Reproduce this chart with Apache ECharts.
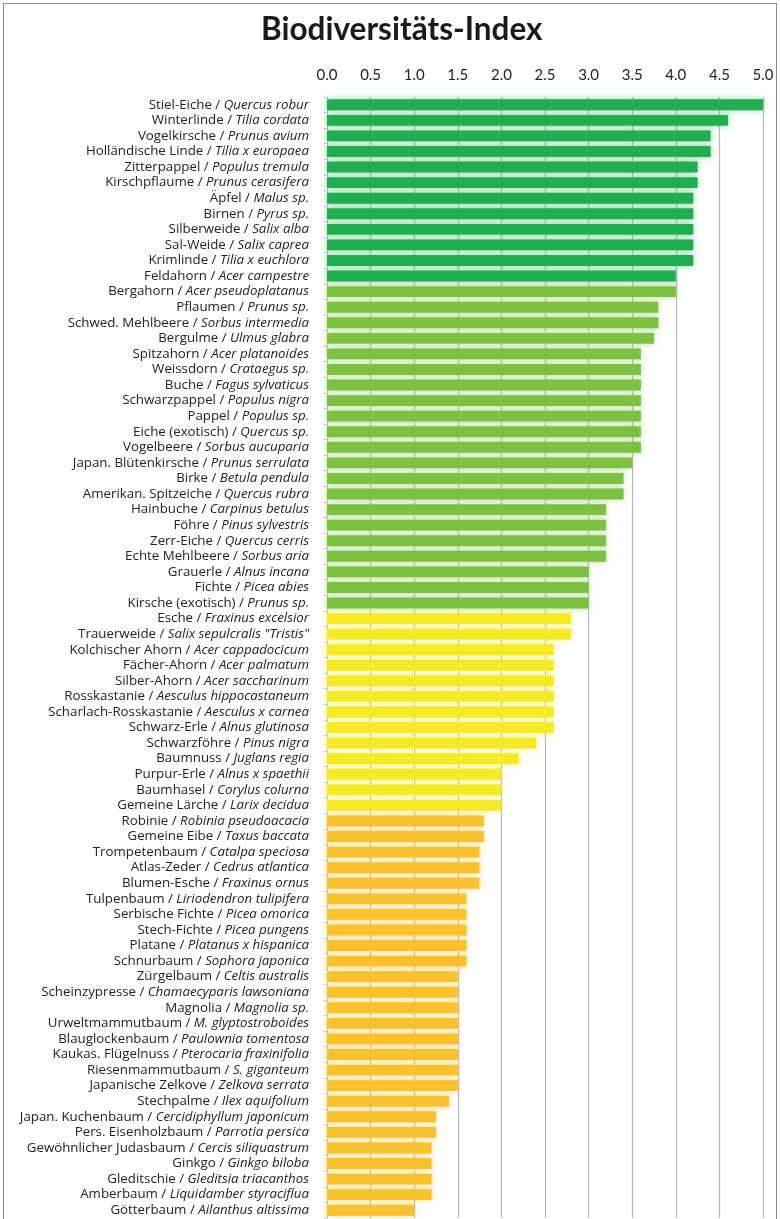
<!DOCTYPE html>
<html>
<head>
<meta charset="utf-8">
<script src="https://cdn.jsdelivr.net/npm/echarts@6/dist/echarts.min.js"></script>
<style>
  html, body { margin: 0; padding: 0; background: #fff; }
  #frame { position: absolute; left: 3px; top: 3px; width: 774px; height: 1230px; border: 1px solid #8a8a8a; box-sizing: border-box; }
  #chart { position: absolute; left: 0; top: 0; width: 780px; height: 1219px; }
</style>
</head>
<body>
<div id="frame"></div>
<div id="chart"></div>
<script>
// Common (German) tree names
const germanNames = [
  'Stiel-Eiche', 'Winterlinde', 'Vogelkirsche', 'Holländische Linde', 'Zitterpappel',
  'Kirschpflaume', 'Äpfel', 'Birnen', 'Silberweide', 'Sal-Weide',
  'Krimlinde', 'Feldahorn', 'Bergahorn', 'Pflaumen', 'Schwed. Mehlbeere',
  'Bergulme', 'Spitzahorn', 'Weissdorn', 'Buche', 'Schwarzpappel',
  'Pappel', 'Eiche (exotisch)', 'Vogelbeere', 'Japan. Blütenkirsche', 'Birke',
  'Amerikan. Spitzeiche', 'Hainbuche', 'Föhre', 'Zerr-Eiche', 'Echte Mehlbeere',
  'Grauerle', 'Fichte', 'Kirsche (exotisch)', 'Esche', 'Trauerweide',
  'Kolchischer Ahorn', 'Fächer-Ahorn', 'Silber-Ahorn', 'Rosskastanie', 'Scharlach-Rosskastanie',
  'Schwarz-Erle', 'Schwarzföhre', 'Baumnuss', 'Purpur-Erle', 'Baumhasel',
  'Gemeine Lärche', 'Robinie', 'Gemeine Eibe', 'Trompetenbaum', 'Atlas-Zeder',
  'Blumen-Esche', 'Tulpenbaum', 'Serbische Fichte', 'Stech-Fichte', 'Platane',
  'Schnurbaum', 'Zürgelbaum', 'Scheinzypresse', 'Magnolia', 'Urweltmammutbaum',
  'Blauglockenbaum', 'Kaukas. Flügelnuss', 'Riesenmammutbaum', 'Japanische Zelkove', 'Stechpalme',
  'Japan. Kuchenbaum', 'Pers. Eisenholzbaum', 'Gewöhnlicher Judasbaum', 'Ginkgo', 'Gleditschie',
  'Amberbaum', 'Götterbaum'
];

// Botanical names
const latinNames = [
  'Quercus robur', 'Tilia cordata', 'Prunus avium', 'Tilia x europaea', 'Populus tremula',
  'Prunus cerasifera', 'Malus sp.', 'Pyrus sp.', 'Salix alba', 'Salix caprea',
  'Tilia x euchlora', 'Acer campestre', 'Acer pseudoplatanus', 'Prunus sp.', 'Sorbus intermedia',
  'Ulmus glabra', 'Acer platanoides', 'Crataegus sp.', 'Fagus sylvaticus', 'Populus nigra',
  'Populus sp.', 'Quercus sp.', 'Sorbus aucuparia', 'Prunus serrulata', 'Betula pendula',
  'Quercus rubra', 'Carpinus betulus', 'Pinus sylvestris', 'Quercus cerris', 'Sorbus aria',
  'Alnus incana', 'Picea abies', 'Prunus sp.', 'Fraxinus excelsior', 'Salix sepulcralis "Tristis"',
  'Acer cappadocicum', 'Acer palmatum', 'Acer saccharinum', 'Aesculus hippocastaneum', 'Aesculus x carnea',
  'Alnus glutinosa', 'Pinus nigra', 'Juglans regia', 'Alnus x spaethii', 'Corylus colurna',
  'Larix decidua', 'Robinia pseudoacacia', 'Taxus baccata', 'Catalpa speciosa', 'Cedrus atlantica',
  'Fraxinus ornus', 'Liriodendron tulipifera', 'Picea omorica', 'Picea pungens', 'Platanus x hispanica',
  'Sophora japonica', 'Celtis australis', 'Chamaecyparis lawsoniana', 'Magnolia sp.', 'M. glyptostroboides',
  'Paulownia tomentosa', 'Pterocaria fraxinifolia', 'S. giganteum', 'Zelkova serrata', 'Ilex aquifolium',
  'Cercidiphyllum japonicum', 'Parrotia persica', 'Cercis siliquastrum', 'Ginkgo biloba', 'Gleditsia triacanthos',
  'Liquidamber styraciflua', 'Ailanthus altissima'
];

// Biodiversity index per tree
const indexValues = [
  5.0, 4.6, 4.4, 4.4, 4.25,
  4.25, 4.2, 4.2, 4.2, 4.2,
  4.2, 4.0, 4.0, 3.8, 3.8,
  3.75, 3.6, 3.6, 3.6, 3.6,
  3.6, 3.6, 3.6, 3.5, 3.4,
  3.4, 3.2, 3.2, 3.2, 3.2,
  3.0, 3.0, 3.0, 2.8, 2.8,
  2.6, 2.6, 2.6, 2.6, 2.6,
  2.6, 2.4, 2.2, 2.0, 2.0,
  2.0, 1.8, 1.8, 1.75, 1.75,
  1.75, 1.6, 1.6, 1.6, 1.6,
  1.6, 1.5, 1.5, 1.5, 1.5,
  1.5, 1.5, 1.5, 1.5, 1.4,
  1.25, 1.25, 1.2, 1.2, 1.2,
  1.2, 1.0
];

// Rating class per tree (1 = highest ... 4 = lowest)
const ratingClass = [
  1, 1, 1, 1, 1, 1, 1, 1, 1, 1, 1, 1,
  2, 2, 2, 2, 2, 2, 2, 2, 2, 2, 2, 2, 2, 2, 2, 2, 2, 2, 2, 2, 2,
  3, 3, 3, 3, 3, 3, 3, 3, 3, 3, 3, 3, 3,
  4, 4, 4, 4, 4, 4, 4, 4, 4, 4, 4, 4, 4, 4, 4, 4, 4, 4, 4, 4, 4, 4, 4, 4, 4, 4
];

// Axis tick labels
const axisTicks = ['0.0', '0.5', '1.0', '1.5', '2.0', '2.5', '3.0', '3.5', '4.0', '4.5', '5.0'];

const classColors = { 1: '#20ae50', 2: '#7dc142', 3: '#f6ea24', 4: '#f9c12d' };
const classGlow = { 1: 'rgba(32,174,80,0.55)', 2: 'rgba(125,193,66,0.55)', 3: 'rgba(246,234,36,0.6)', 4: 'rgba(249,193,45,0.6)' };

const categories = germanNames.map((g, i) => g + '|' + latinNames[i]);

const chart = echarts.init(document.getElementById('chart'), null, { renderer: 'canvas' });

const TITLE_FONT = 'Lato, "Open Sans", sans-serif';
const FONT = '"Open Sans", Lato, sans-serif';
const LABEL_SIZE = 13.3;

chart.setOption({
  animation: false,
  backgroundColor: 'transparent',
  title: {
    text: 'Biodiversitäts-Index',
    left: 256,
    top: 9,
    textStyle: { fontFamily: TITLE_FONT, fontSize: 31.5, fontWeight: 'bold', color: '#1a1a1a' }
  },
  grid: { left: 327, right: 17, top: 97, bottom: 1, containLabel: false },
  xAxis: {
    type: 'value',
    position: 'top',
    min: 0,
    max: 5,
    interval: 0.5,
    axisLine: { show: false },
    axisTick: { show: false },
    axisLabel: {
      margin: 14,
      fontFamily: TITLE_FONT,
      fontSize: 15,
      color: '#222',
      formatter: (v) => axisTicks[Math.round(v / 0.5)]
    },
    splitLine: { show: true, lineStyle: { color: '#b8b8b8', width: 1.2 } }
  },
  yAxis: {
    type: 'category',
    inverse: true,
    data: categories,
    axisLine: { show: true, lineStyle: { color: '#c8c8c8', width: 1 } },
    axisTick: { show: true, length: 3, lineStyle: { color: '#c8c8c8' } },
    axisLabel: {
      margin: 18,
      interval: 0,
      fontFamily: FONT,
      fontSize: LABEL_SIZE,
      color: '#222',
      formatter: (v) => {
        const parts = v.split('|');
        return '{de|' + parts[0] + ' / }{la|' + parts[1] + '}';
      },
      rich: {
        de: { fontFamily: FONT, fontSize: LABEL_SIZE, color: '#222' },
        la: { fontFamily: FONT, fontSize: LABEL_SIZE, fontStyle: 'italic', color: '#222' }
      }
    }
  },
  series: [{
    type: 'bar',
    barCategoryGap: '30%',
    data: indexValues.map((v, i) => ({
      value: v,
      itemStyle: {
        color: classColors[ratingClass[i]],
        shadowColor: classGlow[ratingClass[i]],
        shadowBlur: 6
      }
    }))
  }]
});
</script>
</body>
</html>
